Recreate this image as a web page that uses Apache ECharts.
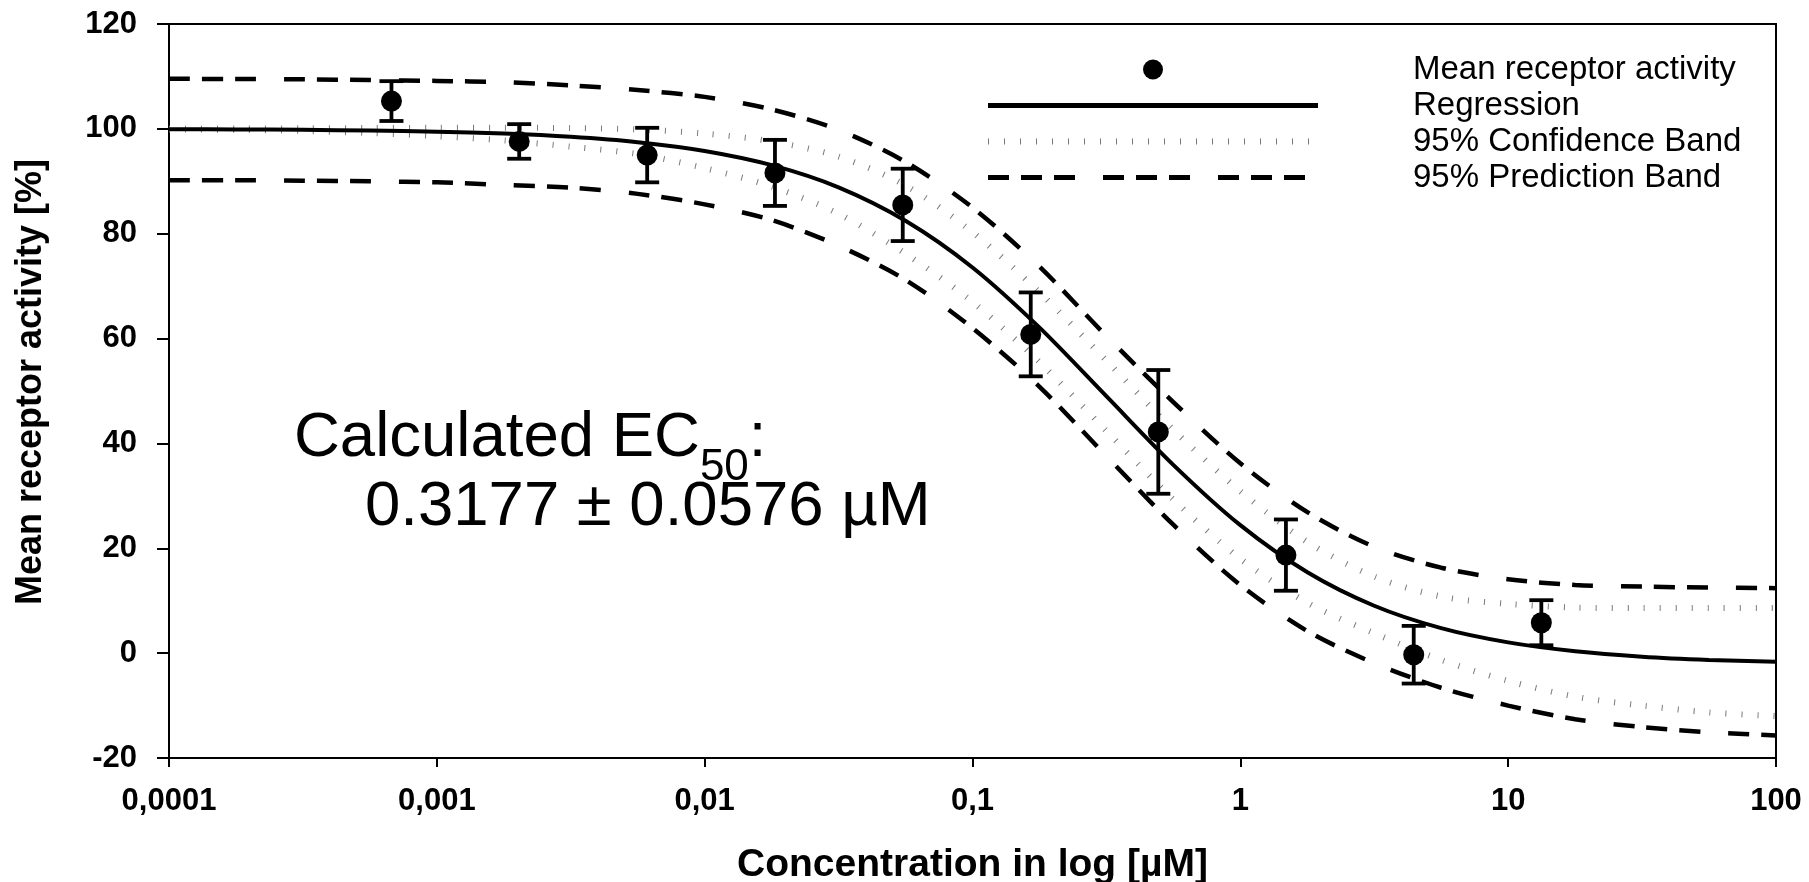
<!DOCTYPE html>
<html>
<head>
<meta charset="utf-8">
<script src="https://cdn.jsdelivr.net/npm/echarts@6/dist/echarts.min.js"></script>
<style>html,body{margin:0;padding:0;background:#fff}#chart{width:1809px;height:882px}</style>
</head>
<body>
<div id="chart"></div>
<script>
// ---- data ----
const concentrations = [0.000677, 0.00203, 0.0061, 0.0183, 0.0549, 0.165, 0.494, 1.48, 4.44, 13.3];
const meanActivity   = [105.3, 97.6, 95.0, 91.6, 85.5, 60.8, 42.2, 18.7, -0.3, 5.8];
const errorSD        = [3.8, 3.3, 5.2, 6.3, 6.9, 8.0, 11.8, 6.8, 5.5, 4.3];

const curveX = [0.0001, 0.000178, 0.000316, 0.000562, 0.001, 0.00178, 0.00316, 0.00562, 0.01, 0.0178, 0.0316, 0.0562,
                0.1, 0.178, 0.316, 0.562, 1, 1.78, 3.16, 5.62, 10, 17.8, 31.6, 56.2, 100];
const regression = [99.93, 99.89, 99.81, 99.68, 99.46, 99.10, 98.48, 97.46, 95.79, 93.08, 88.85, 82.47,
                    73.56, 62.08, 49.01, 35.92, 24.41, 15.43, 9.04, 4.77, 2.05, 0.36, -0.67, -1.29, -1.66];
const upperConfidence = [100.0, 100.05, 100.1, 100.15, 100.2, 100.2, 100.15, 99.9, 99.1, 97.6, 94.7, 89.2,
                         80.3, 68.8, 55.8, 42.6, 30.9, 21.2, 14.6, 10.8, 9.4, 8.7, 8.6, 8.6, 8.6];
const lowerConfidence = [99.9, 99.8, 99.6, 99.2, 98.6, 97.8, 96.6, 95.2, 92.5, 89.0, 83.8, 76.2,
                         67.0, 55.5, 42.4, 29.3, 18.0, 9.6, 3.8, -1.3, -5.3, -8.3, -10.0, -11.3, -12.0];
const upperPrediction = [109.55, 109.5, 109.45, 109.3, 109.15, 108.9, 108.3, 107.4, 106.1, 103.7, 99.8, 93.7,
                         85.0, 73.7, 60.5, 47.9, 36.2, 26.9, 20.3, 16.3, 14.1, 13.0, 12.7, 12.5, 12.4];
const lowerPrediction = [90.2, 90.2, 90.1, 90.0, 89.8, 89.3, 88.8, 87.6, 85.6, 82.6, 77.7, 71.2,
                         62.0, 50.8, 37.6, 24.5, 13.0, 4.2, -1.9, -6.6, -10.0, -12.6, -14.1, -15.1, -15.7];

const xTickValues = [0.0001, 0.001, 0.01, 0.1, 1, 10, 100];
const xTickLabels = ['0,0001', '0,001', '0,01', '0,1', '1', '10', '100'];
const seriesNames = ['Mean receptor activity', 'Regression', '95% Confidence Band', '95% Prediction Band'];

// ---- build ----
const FONT = '"Liberation Sans", Arial, sans-serif';
const pair = (xs, ys) => xs.map((x, i) => [x, ys[i]]);
const errData = concentrations.map((c, i) => [c, meanActivity[i] - errorSD[i], meanActivity[i] + errorSD[i]]);

const confStyle = { color: '#7a7a7a', width: 6, type: [1, 15], cap: 'butt' };
const predStyle = { color: '#000', width: 4.5, type: [21, 12, 21, 12, 21, 28], cap: 'butt' };
const SMOOTH = 0.3;

const chart = echarts.init(document.getElementById('chart'), null, { renderer: 'canvas' });
chart.setOption({
  animation: false,
  backgroundColor: '#fff',
  grid: { left: 169, right: 33, top: 24, bottom: 124, show: true, borderColor: '#000', borderWidth: 2,
          containLabel: false, outerBoundsMode: 'none' },
  legend: {
    orient: 'vertical', left: 980, top: 48,
    itemWidth: 330, itemHeight: 20, itemGap: 3,
    selectedMode: false,
    data: [
      { name: seriesNames[0] },
      { name: seriesNames[1], itemStyle: { opacity: 0 }, lineStyle: { width: 5 } },
      { name: seriesNames[2], itemStyle: { opacity: 0 }, lineStyle: { width: 6 } },
      { name: seriesNames[3], itemStyle: { opacity: 0 }, lineStyle: { width: 5 } }
    ],
    textStyle: { fontFamily: FONT, fontSize: 33, color: '#000', lineHeight: 33, padding: [0, 0, 0, 90] }
  },
  xAxis: {
    type: 'log', logBase: 10, min: 0.0001, max: 100,
    axisLine: { show: true, onZero: false, lineStyle: { color: '#000', width: 2 } },
    axisTick: { show: true, length: 9, lineStyle: { color: '#000', width: 2 } },
    splitLine: { show: false },
    axisLabel: {
      margin: 28, color: '#000', fontFamily: FONT, fontSize: 31, fontWeight: 'bold',
      showMinLabel: true, showMaxLabel: true,
      formatter: v => {
        const i = xTickValues.findIndex(t => Math.abs(Math.log10(t) - Math.log10(v)) < 1e-6);
        return i >= 0 ? xTickLabels[i] : '';
      }
    },
    name: 'Concentration in log [µM]', nameLocation: 'middle', nameGap: 88,
    nameTextStyle: { fontFamily: FONT, fontSize: 39, fontWeight: 'bold', color: '#000', lineHeight: 39 }
  },
  yAxis: {
    type: 'value', min: -20, max: 120, interval: 20,
    axisLine: { show: true, onZero: false, lineStyle: { color: '#000', width: 2 } },
    axisTick: { show: true, length: 12, lineStyle: { color: '#000', width: 2 } },
    splitLine: { show: false },
    axisLabel: { margin: 32, color: '#000', fontFamily: FONT, fontSize: 31, fontWeight: 'bold' },
    name: 'Mean receptor activity [%]', nameLocation: 'middle', nameGap: 120, nameRotate: 90,
    nameTextStyle: { fontFamily: FONT, fontSize: 36, fontWeight: 'bold', color: '#000', lineHeight: 36, padding: [0, 0, 0, 18] }
  },
  graphic: [
    {
      type: 'text', x: 294, y: 406, z: 100,
      style: {
        text: '{a|Calculated EC}{s|50}{a|:}', verticalAlign: 'top', fill: '#000',
        rich: {
          a: { fontFamily: FONT, fontSize: 63.5, lineHeight: 64, verticalAlign: 'top', fill: '#000' },
          s: { fontFamily: FONT, fontSize: 44, lineHeight: 44, padding: [40, 0, 0, 0], verticalAlign: 'top', fill: '#000' }
        }
      }
    },
    {
      type: 'text', x: 365, y: 475, z: 100,
      style: { text: '0.3177 ± 0.0576 µM', fontFamily: FONT, fontSize: 63.5, lineHeight: 64, verticalAlign: 'top', fill: '#000' }
    }
  ],
  series: [
    { name: seriesNames[2], type: 'line', data: pair(curveX, upperConfidence), symbol: 'none', smooth: SMOOTH, lineStyle: confStyle, itemStyle: { color: '#7a7a7a' }, z: 2 },
    { name: seriesNames[2], type: 'line', data: pair(curveX, lowerConfidence), symbol: 'none', smooth: SMOOTH, lineStyle: confStyle, itemStyle: { color: '#7a7a7a' }, z: 2 },
    { name: seriesNames[3], type: 'line', data: pair(curveX, upperPrediction), symbol: 'none', smooth: SMOOTH, lineStyle: predStyle, itemStyle: { color: '#000' }, z: 3 },
    { name: seriesNames[3], type: 'line', data: pair(curveX, lowerPrediction), symbol: 'none', smooth: SMOOTH, lineStyle: predStyle, itemStyle: { color: '#000' }, z: 3 },
    { name: seriesNames[1], type: 'line', data: pair(curveX, regression), symbol: 'none', smooth: SMOOTH, lineStyle: { color: '#000', width: 4 }, itemStyle: { color: '#000' }, z: 4 },
    {
      name: 'error', type: 'custom', data: errData, z: 5,
      encode: { x: 0, y: [1, 2] },
      renderItem: (params, api) => {
        const x = api.value(0);
        const pLo = api.coord([x, api.value(1)]);
        const pHi = api.coord([x, api.value(2)]);
        const hw = 12;
        const st = { stroke: '#000', lineWidth: 3.8, fill: null };
        return { type: 'group', children: [
          { type: 'line', shape: { x1: pLo[0], y1: pLo[1], x2: pHi[0], y2: pHi[1] }, style: st },
          { type: 'line', shape: { x1: pLo[0] - hw, y1: pLo[1], x2: pLo[0] + hw, y2: pLo[1] }, style: st },
          { type: 'line', shape: { x1: pHi[0] - hw, y1: pHi[1], x2: pHi[0] + hw, y2: pHi[1] }, style: st }
        ] };
      }
    },
    { name: seriesNames[0], type: 'scatter', data: pair(concentrations, meanActivity), symbol: 'circle', symbolSize: 21, itemStyle: { color: '#000', opacity: 1 }, z: 6 }
  ]
});
</script>
</body>
</html>
